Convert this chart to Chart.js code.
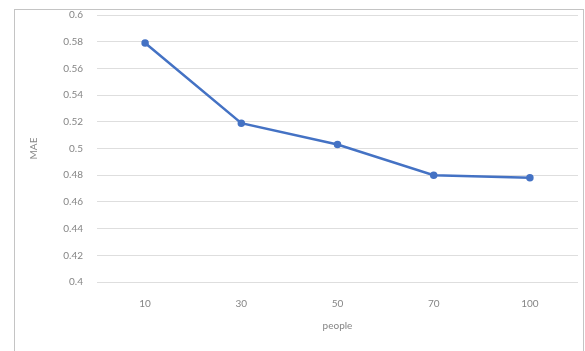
<!DOCTYPE html>
<html>
<head>
<meta charset="utf-8">
<script src="https://cdn.jsdelivr.net/npm/chart.js@4"></script>
<style>
    body { margin: 0; background: #fff; }
    #marco {
        position: absolute;
        left: 14px;
        top: 9px;
        width: 568px;
        height: 345px;
        border: 1px solid #c4c4c4;
    }
</style>
</head>
<body>
<div id="marco">
    <canvas id="graficoMae" width="568" height="345"></canvas>
</div>
<script>
let personas = ["10", "30", "50", "70", "100"];
let valoresMae = [0.579, 0.519, 0.503, 0.480, 0.478];
let ticksY = [0.4, 0.42, 0.44, 0.46, 0.48, 0.5, 0.52, 0.54, 0.56, 0.58, 0.6];

let fuente = { family: "Lato", size: 10 };
let gris = "#858585";

new Chart(document.getElementById("graficoMae"), {
    type: "line",
    data: {
        labels: personas,
        datasets: [{
            label: "MAE",
            data: valoresMae,
            borderColor: "#4472c4",
            backgroundColor: "#4472c4",
            borderWidth: 2.5,
            pointRadius: 2.5,
            pointHoverRadius: 2.5,
            tension: 0
        }]
    },
    options: {
        responsive: false,
        animation: false,
        layout: { padding: { top: 5, right: 1, left: 0, bottom: 19 } },
        plugins: {
            legend: { display: false },
            tooltip: { enabled: false }
        },
        scales: {
            x: {
                offset: true,
                grid: { display: false },
                border: { display: false },
                ticks: { color: gris, font: fuente, padding: 8 },
                title: {
                    display: true,
                    text: "people",
                    color: gris,
                    font: fuente,
                    padding: { top: 6 }
                },
                afterFit: function (escala) { escala.height = 54; }
            },
            y: {
                min: 0.4,
                max: 0.6,
                afterBuildTicks: function (escala) {
                    escala.ticks = ticksY.map(v => ({ value: v }));
                },
                grid: { color: "#dedede", lineWidth: 1, drawTicks: false },
                border: { display: false },
                ticks: {
                    color: gris,
                    font: fuente,
                    padding: 14,
                    callback: v => String(Math.round(v * 100) / 100)
                },
                title: {
                    display: true,
                    text: "MAE",
                    color: gris,
                    font: fuente,
                    padding: { top: 13, bottom: 0 }
                },
                afterFit: function (escala) {
                    escala.width = 82;
                    escala.paddingTop = 0;
                    escala.paddingBottom = 0;
                }
            }
        }
    }
});
</script>
</body>
</html>
